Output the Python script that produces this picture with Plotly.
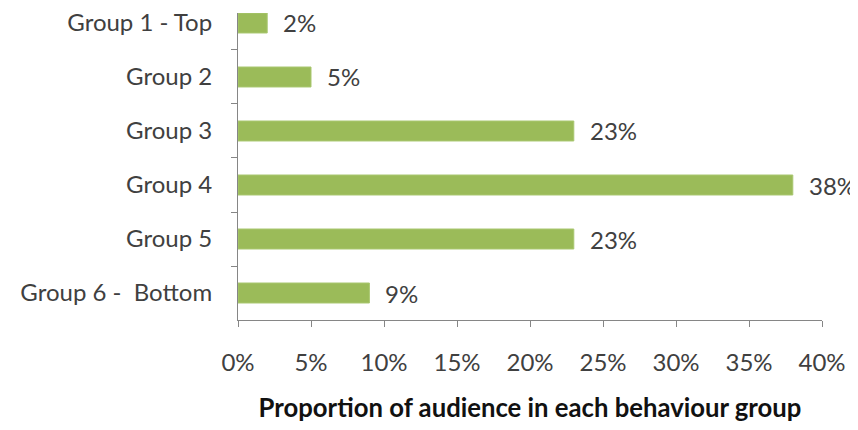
import plotly.graph_objects as go

categories = ["Group 1 - Top", "Group 2", "Group 3", "Group 4", "Group 5", "Group 6 -  Bottom"]
values = [2, 5, 23, 38, 23, 9]
x_ticks = [0, 5, 10, 15, 20, 25, 30, 35, 40]
x_tick_labels = [f"{v}%" for v in x_ticks]
axis_title = "Proportion of audience in each behaviour group"

FONT = "Lato"
TXT = "#404040"
AX = "#868686"

fig = go.Figure()
fig.add_trace(go.Bar(
    y=categories, x=values, orientation="h",
    marker=dict(color="#9BBB59", line=dict(color="#A9C770", width=1)),
    width=0.37, hoverinfo="skip",
))
for c, v in zip(categories, values):
    fig.add_annotation(x=v, y=c, text=f"{v}%", showarrow=False,
                       xanchor="left", xshift=14, yshift=0,
                       font=dict(family=FONT, size=24, color=TXT))

fig.update_layout(
    width=850, height=414,
    margin=dict(l=230, r=36, t=5, b=102),
    plot_bgcolor="white", paper_bgcolor="white",
    showlegend=False,
    font=dict(family=FONT, size=24, color=TXT),
    xaxis=dict(range=[0, 40], tickvals=x_ticks, ticktext=x_tick_labels,
               automargin=False,
               showgrid=False, zeroline=False, showline=True, linecolor=AX, linewidth=1,
               ticks="outside", ticklen=6, tickcolor=AX, tickwidth=1,
               ticklabelstandoff=15,
               tickfont=dict(family=FONT, size=24, color=TXT),
               title=dict(text="<b>" + axis_title + "</b>", standoff=24,
                          font=dict(family=FONT, size=25.7, color="#111111"))),
    yaxis=dict(type="category", categoryorder="array", categoryarray=categories,
               automargin=False,
               range=[5.5, -0.185], showgrid=False, zeroline=False,
               showline=True, linecolor=AX, linewidth=1,
               ticks="outside", ticklen=6, tickcolor=AX, tickson="boundaries",
               ticklabelstandoff=20,
               tickfont=dict(family=FONT, size=24, color=TXT)),
)
fig.write_html("out.html")
